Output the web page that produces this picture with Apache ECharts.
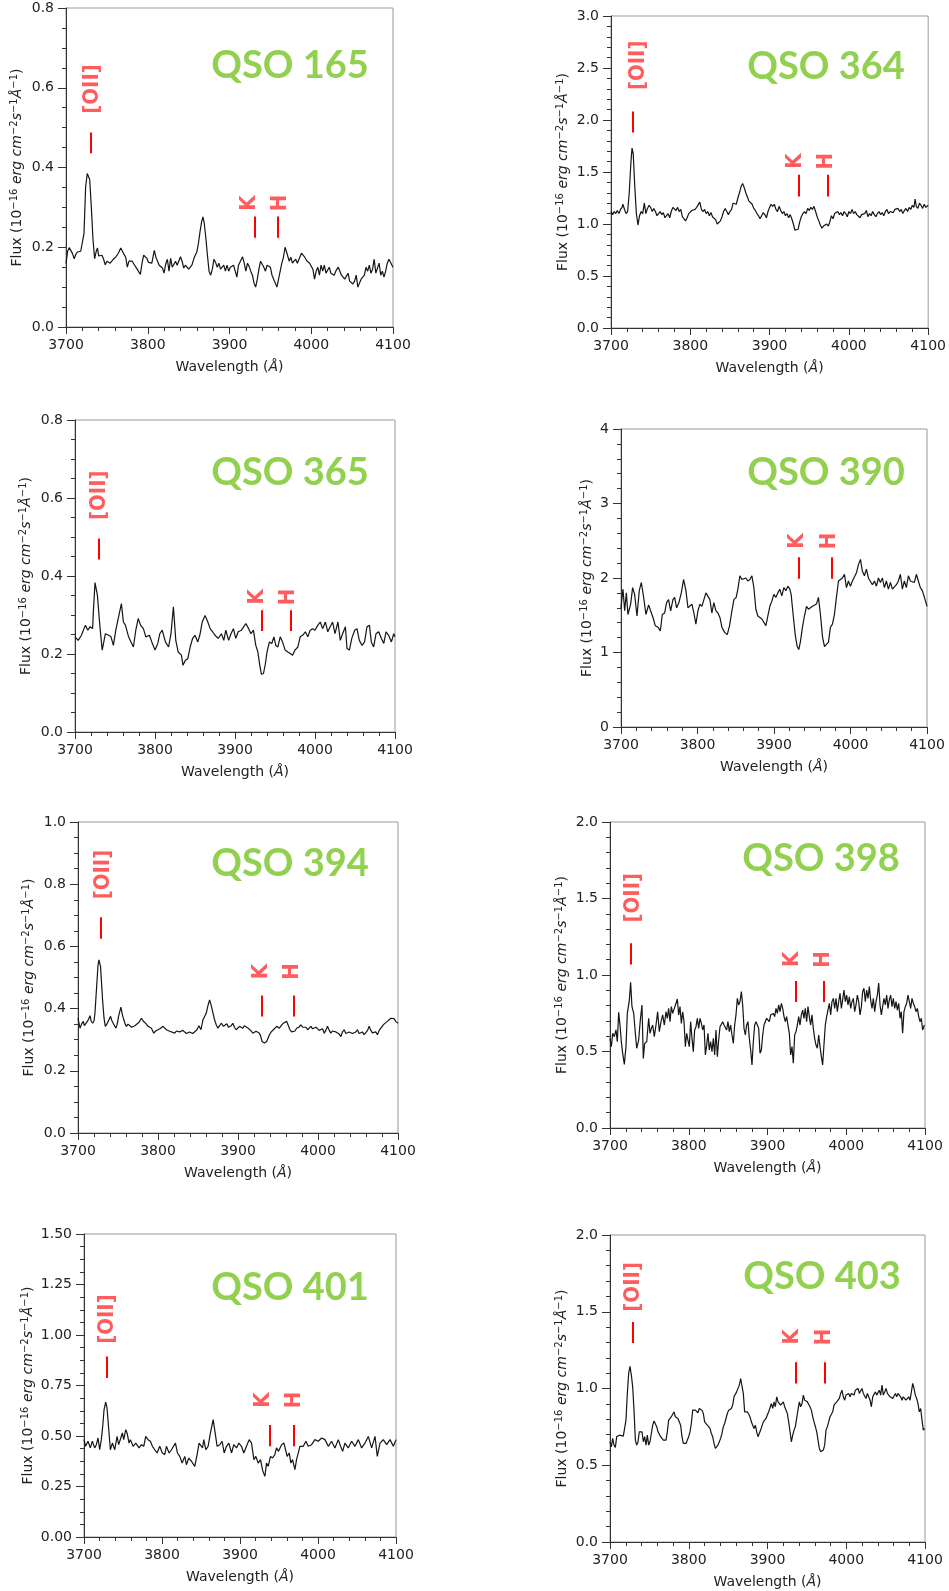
<!DOCTYPE html>
<html><head><meta charset="utf-8">
<script src="https://cdn.jsdelivr.net/npm/echarts@6/dist/echarts.min.js"></script>
<style>html,body{margin:0;padding:0;background:#fff}#c{width:949px;height:1591px}</style>
</head><body><div id="c"></div>
<script>
// ---------- DATA: spectra as [wavelength (Å), flux] ----------
const spec165 = [[3700,0.159],[3702,0.19],[3704,0.199],[3706,0.196],[3708,0.184],[3710,0.171],[3712,0.182],[3714,0.188],[3716,0.186],[3718,0.19],[3720,0.186],[3722,0.234],[3724,0.351],[3726,0.385],[3727.5,0.388],[3729,0.37],[3731,0.3],[3733,0.22],[3735,0.171],[3737,0.19],[3738.5,0.198],[3740,0.178],[3742,0.182],[3744,0.18],[3746,0.17],[3748,0.156],[3750,0.165],[3752,0.168],[3754,0.16],[3756,0.165],[3758,0.17],[3761,0.176],[3764,0.185],[3767,0.198],[3769,0.196],[3771,0.182],[3773,0.175],[3775,0.15],[3777,0.165],[3779,0.16],[3781,0.165],[3783,0.158],[3785,0.16],[3787,0.145],[3789,0.14],[3791,0.132],[3793,0.16],[3795,0.18],[3797,0.178],[3799,0.172],[3801,0.162],[3803,0.165],[3805,0.16],[3808,0.192],[3810,0.175],[3812,0.165],[3814,0.155],[3816,0.16],[3818,0.148],[3820,0.135],[3822,0.158],[3824,0.17],[3826,0.14],[3828,0.172],[3830,0.15],[3832,0.145],[3834,0.165],[3836,0.155],[3838,0.15],[3840,0.176],[3842,0.165],[3844,0.148],[3846,0.155],[3848,0.152],[3850,0.145],[3852,0.14],[3854,0.155],[3857,0.175],[3860,0.188],[3862,0.21],[3864,0.24],[3866,0.265],[3867.5,0.276],[3869,0.262],[3871,0.225],[3873,0.18],[3875,0.14],[3877,0.13],[3879,0.145],[3881,0.17],[3883,0.162],[3885,0.15],[3887,0.16],[3889,0.145],[3891,0.14],[3893,0.155],[3895,0.14],[3897,0.155],[3899,0.14],[3901,0.15],[3903,0.145],[3905,0.155],[3907,0.14],[3909,0.125],[3911,0.155],[3913,0.16],[3916,0.176],[3918,0.16],[3920,0.14],[3922,0.16],[3924,0.152],[3926,0.14],[3928,0.13],[3930,0.11],[3932,0.1],[3934,0.12],[3936,0.145],[3938,0.165],[3940,0.16],[3942,0.15],[3944,0.14],[3946,0.155],[3948,0.152],[3950,0.15],[3952,0.13],[3954,0.125],[3956,0.11],[3958,0.1],[3960,0.105],[3962,0.14],[3964,0.16],[3966,0.175],[3968,0.2],[3969.5,0.205],[3971,0.18],[3973,0.165],[3975,0.175],[3977,0.16],[3979,0.155],[3981,0.17],[3983,0.16],[3985,0.165],[3988,0.185],[3990,0.18],[3992,0.175],[3995,0.165],[3998,0.16],[4000,0.155],[4002,0.145],[4004,0.12],[4006,0.14],[4008,0.15],[4010,0.13],[4012,0.155],[4014,0.14],[4016,0.155],[4018,0.135],[4020,0.14],[4022,0.15],[4024,0.135],[4026,0.14],[4028,0.13],[4030,0.14],[4033,0.15],[4035,0.14],[4037,0.13],[4039,0.13],[4041,0.12],[4043,0.115],[4045,0.135],[4047,0.115],[4049,0.11],[4051,0.108],[4053,0.115],[4055,0.13],[4057,0.1],[4059,0.11],[4061,0.12],[4063,0.125],[4065,0.13],[4067,0.15],[4069,0.14],[4071,0.155],[4073,0.135],[4075,0.145],[4077,0.17],[4079,0.135],[4081,0.135],[4083,0.16],[4085,0.13],[4087,0.14],[4089,0.125],[4091,0.14],[4093,0.16],[4095,0.17],[4097,0.165],[4100,0.15]];

const spec364 = [[3700,1.12],[3702,1.09],[3704,1.12],[3706,1.10],[3708,1.13],[3710,1.10],[3712,1.14],[3714,1.16],[3715,1.19],[3717,1.14],[3719,1.10],[3721,1.12],[3723,1.30],[3725,1.58],[3726.5,1.73],[3728,1.68],[3730,1.36],[3732,1.10],[3734,0.99],[3736,1.08],[3738,1.12],[3740,1.10],[3742,1.20],[3744,1.10],[3746,1.15],[3748,1.18],[3750,1.16],[3752,1.12],[3754,1.15],[3756,1.12],[3758,1.08],[3760,1.07],[3762,1.12],[3764,1.09],[3766,1.11],[3768,1.06],[3770,1.08],[3772,1.10],[3774,1.06],[3776,1.12],[3778,1.16],[3780,1.15],[3782,1.13],[3784,1.16],[3786,1.12],[3788,1.14],[3790,1.07],[3792,1.06],[3794,1.03],[3796,1.06],[3798,1.10],[3800,1.10],[3802,1.13],[3804,1.12],[3806,1.14],[3808,1.16],[3810,1.15],[3812,1.21],[3814,1.14],[3816,1.12],[3818,1.14],[3820,1.10],[3822,1.12],[3824,1.08],[3826,1.11],[3828,1.07],[3830,1.06],[3832,1.04],[3834,1.00],[3836,0.99],[3838,1.03],[3840,1.07],[3842,1.12],[3844,1.15],[3846,1.12],[3848,1.09],[3850,1.12],[3852,1.14],[3854,1.20],[3856,1.21],[3858,1.19],[3860,1.25],[3862,1.30],[3864,1.36],[3866,1.39],[3868,1.35],[3870,1.30],[3872,1.26],[3874,1.22],[3876,1.23],[3878,1.19],[3880,1.15],[3882,1.13],[3884,1.10],[3886,1.08],[3888,1.05],[3890,1.08],[3892,1.11],[3894,1.09],[3896,1.06],[3898,1.12],[3900,1.16],[3902,1.19],[3904,1.17],[3906,1.19],[3908,1.14],[3910,1.12],[3912,1.17],[3914,1.13],[3916,1.10],[3918,1.12],[3920,1.08],[3922,1.10],[3924,1.06],[3926,1.09],[3928,1.05],[3930,1.00],[3932,0.94],[3934,0.93],[3936,0.95],[3938,1.02],[3940,1.07],[3942,1.10],[3944,1.12],[3946,1.10],[3948,1.15],[3950,1.13],[3952,1.16],[3954,1.14],[3956,1.17],[3958,1.12],[3960,1.07],[3962,1.03],[3964,0.99],[3966,0.96],[3968,0.98],[3970,0.97],[3972,1.00],[3974,0.98],[3976,1.02],[3978,1.08],[3980,1.05],[3982,1.10],[3984,1.09],[3986,1.12],[3988,1.09],[3990,1.11],[3992,1.08],[3994,1.12],[3996,1.10],[3998,1.07],[4000,1.12],[4002,1.10],[4004,1.14],[4006,1.10],[4008,1.12],[4010,1.09],[4012,1.08],[4014,1.06],[4016,1.09],[4018,1.08],[4020,1.10],[4022,1.13],[4024,1.07],[4026,1.10],[4028,1.08],[4030,1.12],[4032,1.09],[4034,1.07],[4036,1.10],[4038,1.12],[4040,1.09],[4042,1.11],[4044,1.08],[4046,1.12],[4048,1.14],[4050,1.10],[4052,1.12],[4054,1.13],[4056,1.11],[4058,1.14],[4060,1.13],[4062,1.15],[4064,1.12],[4066,1.14],[4068,1.10],[4070,1.13],[4072,1.15],[4074,1.12],[4076,1.16],[4078,1.14],[4080,1.18],[4082,1.16],[4083.5,1.24],[4085,1.17],[4087,1.15],[4089,1.20],[4091,1.18],[4093,1.15],[4095,1.19],[4097,1.16],[4100,1.18]];

const spec365 = [[3700,0.244],[3704,0.235],[3708,0.248],[3713,0.274],[3716,0.261],[3719,0.27],[3722,0.265],[3723,0.31],[3725,0.383],[3728,0.351],[3731,0.274],[3734,0.21],[3738,0.252],[3742,0.248],[3745,0.244],[3748,0.222],[3751,0.261],[3754,0.291],[3758,0.329],[3760.5,0.282],[3763,0.274],[3767,0.244],[3770,0.231],[3773,0.218],[3776,0.261],[3779,0.291],[3782,0.274],[3785.5,0.265],[3788.5,0.244],[3793,0.248],[3796,0.231],[3800,0.21],[3803.5,0.227],[3806,0.252],[3809,0.261],[3813,0.231],[3817,0.218],[3820,0.252],[3823,0.321],[3826,0.235],[3829,0.205],[3833,0.197],[3835,0.171],[3838,0.184],[3841,0.188],[3844,0.218],[3847,0.24],[3850,0.248],[3853.5,0.231],[3856,0.248],[3859,0.282],[3862.6,0.299],[3866,0.282],[3869,0.265],[3872,0.257],[3875,0.248],[3879,0.24],[3883,0.252],[3886,0.235],[3888.5,0.261],[3892,0.235],[3895,0.252],[3898,0.265],[3901,0.24],[3904,0.257],[3908,0.261],[3911,0.27],[3913.6,0.278],[3917,0.265],[3920,0.252],[3923,0.261],[3926,0.222],[3928.6,0.205],[3931,0.171],[3933,0.148],[3935.6,0.15],[3938,0.175],[3940,0.205],[3943,0.231],[3946,0.227],[3948.6,0.244],[3951,0.222],[3953.6,0.218],[3956.5,0.244],[3959.4,0.231],[3962.7,0.21],[3966,0.205],[3969,0.201],[3972,0.197],[3975,0.21],[3978.6,0.218],[3981.5,0.244],[3984.5,0.248],[3988,0.257],[3991,0.244],[3994,0.261],[3997,0.265],[4000,0.261],[4003.6,0.274],[4006.6,0.282],[4009.5,0.265],[4013,0.282],[4016,0.257],[4019,0.27],[4022,0.282],[4025,0.252],[4028.7,0.282],[4031.6,0.235],[4034.5,0.252],[4038,0.27],[4040,0.214],[4043,0.21],[4046,0.24],[4049.6,0.261],[4052.5,0.265],[4055.4,0.235],[4058.8,0.222],[4062,0.231],[4065,0.27],[4068,0.274],[4070.4,0.231],[4073.3,0.218],[4076.3,0.252],[4079.6,0.257],[4083,0.24],[4086,0.227],[4088.8,0.257],[4092,0.248],[4095.5,0.231],[4098.4,0.252],[4100,0.244]];

const spec390 = [[3700,1.60],[3702.6,1.85],[3704.8,1.56],[3707,1.80],[3709.1,1.51],[3712.6,1.65],[3715.2,1.87],[3717.8,1.78],[3720.9,1.49],[3723.9,1.83],[3726.6,1.94],[3729.6,1.74],[3732.6,1.51],[3736.1,1.64],[3738.7,1.56],[3741.8,1.47],[3744.8,1.36],[3748.3,1.34],[3751.4,1.29],[3754,1.51],[3757,1.53],[3759.6,1.67],[3762.2,1.71],[3764.9,1.56],[3767.9,1.71],[3770.1,1.74],[3772.7,1.60],[3775.7,1.67],[3778.8,1.80],[3781.8,1.98],[3784.9,1.83],[3787.5,1.60],[3790.1,1.62],[3792.7,1.65],[3795.3,1.53],[3797.9,1.38],[3800.6,1.56],[3803.2,1.65],[3805.8,1.62],[3808.4,1.71],[3811,1.80],[3813.6,1.82],[3816.2,1.71],[3818.8,1.53],[3821.4,1.67],[3824.1,1.56],[3826.7,1.53],[3829.3,1.47],[3831.9,1.34],[3835.4,1.27],[3838.9,1.24],[3841.9,1.36],[3845,1.56],[3847.6,1.71],[3850.6,1.74],[3852.8,1.85],[3855.4,2.03],[3858,1.98],[3860.6,1.96],[3863.2,2.00],[3865.8,1.96],[3868.5,1.98],[3871.1,2.03],[3873.7,1.87],[3876.3,1.58],[3878.9,1.49],[3881.5,1.47],[3884.1,1.45],[3886.7,1.47],[3889.4,1.36],[3892,1.49],[3894.6,1.62],[3897.2,1.69],[3899.8,1.78],[3902.4,1.74],[3905,1.80],[3907.6,1.85],[3910.2,1.76],[3912.9,1.87],[3915.5,1.83],[3918.1,1.89],[3920.7,1.85],[3922.4,1.78],[3925,1.51],[3927.7,1.24],[3930.3,1.08],[3932.4,1.04],[3934.6,1.15],[3937.2,1.34],[3939.8,1.49],[3942.5,1.62],[3945.1,1.58],[3947.7,1.60],[3950.3,1.62],[3952.9,1.61],[3955.5,1.65],[3958.1,1.74],[3960.7,1.51],[3963.4,1.21],[3966,1.08],[3968.6,1.08],[3971.2,1.14],[3973.8,1.34],[3976.4,1.38],[3979,1.51],[3981.6,1.74],[3984.3,1.96],[3986.9,1.94],[3989.5,2.00],[3992.1,2.05],[3994.7,1.87],[3997.3,1.96],[3999.9,1.89],[4002.5,1.96],[4005.1,1.94],[4007.8,2.07],[4010.4,2.18],[4013,2.25],[4015.6,2.09],[4018.2,2.03],[4020.8,2.12],[4023.4,2.00],[4026,1.98],[4028.6,1.91],[4031.3,1.96],[4033.9,1.89],[4036.5,2.00],[4039.1,1.94],[4041.7,2.00],[4044.3,1.87],[4046.9,1.96],[4049.5,1.85],[4052.2,1.94],[4054.8,1.85],[4057.4,1.85],[4060,1.91],[4062.6,1.96],[4065.2,2.05],[4067.8,1.85],[4070.4,1.96],[4073,1.87],[4075.7,2.03],[4078.3,1.96],[4080.9,1.98],[4083.5,1.94],[4086.1,2.05],[4088.7,1.96],[4091.3,1.87],[4093.9,1.83],[4096.6,1.74],[4099.2,1.65],[4100,1.62]];

const spec394 = [[3700,0.369],[3702.5,0.337],[3704.5,0.35],[3706.6,0.359],[3708,0.345],[3710,0.351],[3712.9,0.364],[3715,0.377],[3716.5,0.36],[3718.3,0.353],[3720,0.36],[3721.2,0.385],[3723.3,0.471],[3725,0.54],[3726.2,0.557],[3728.2,0.535],[3730.7,0.428],[3732.5,0.37],[3734.1,0.343],[3736,0.35],[3737.8,0.353],[3740.7,0.375],[3742.5,0.36],[3744,0.353],[3747.4,0.337],[3749,0.35],[3750.7,0.375],[3753.6,0.405],[3755.5,0.38],[3757.3,0.364],[3759,0.35],[3760.6,0.343],[3762.5,0.35],[3764.8,0.348],[3767,0.34],[3769,0.337],[3771,0.345],[3773.1,0.343],[3776,0.355],[3779.3,0.369],[3781.5,0.36],[3783.5,0.364],[3785.5,0.35],[3787.6,0.343],[3789.5,0.345],[3791.8,0.337],[3794.7,0.321],[3797,0.328],[3800,0.332],[3803,0.336],[3806.3,0.343],[3808.5,0.338],[3810.5,0.332],[3812.5,0.33],[3814.6,0.327],[3817,0.325],[3820.9,0.321],[3823,0.328],[3825,0.333],[3827,0.325],[3829.2,0.321],[3831,0.33],[3833.3,0.327],[3835.5,0.32],[3837.5,0.316],[3839.5,0.325],[3841.6,0.327],[3843.5,0.32],[3845.8,0.321],[3848.7,0.332],[3851.2,0.345],[3853.7,0.332],[3856.2,0.364],[3858,0.37],[3860.3,0.385],[3862.5,0.41],[3864.5,0.428],[3866,0.415],[3867.8,0.396],[3870.7,0.364],[3872.5,0.35],[3874.9,0.337],[3877,0.345],[3879,0.353],[3881.9,0.343],[3884,0.345],[3886.1,0.351],[3888,0.34],[3889.4,0.337],[3891.5,0.345],[3893.6,0.353],[3895.5,0.34],[3897.7,0.332],[3899.8,0.338],[3901.9,0.343],[3904,0.34],[3906,0.337],[3908,0.345],[3910.2,0.343],[3912.3,0.338],[3914.3,0.332],[3916.5,0.328],[3918.5,0.321],[3920.5,0.325],[3922.6,0.327],[3924.7,0.322],[3926.8,0.321],[3928.5,0.31],[3930.1,0.294],[3931.5,0.289],[3933,0.289],[3934.5,0.29],[3935.9,0.294],[3937.5,0.305],[3939.3,0.316],[3941.5,0.325],[3944.2,0.332],[3946.3,0.338],[3948.4,0.343],[3950,0.34],[3951.7,0.337],[3954,0.345],[3956.7,0.353],[3958.8,0.355],[3960.9,0.359],[3963,0.345],[3965,0.332],[3967,0.325],[3969.2,0.321],[3971.2,0.328],[3973.3,0.337],[3976,0.34],[3978.7,0.348],[3980.8,0.34],[3982.9,0.337],[3985,0.34],[3987,0.332],[3989,0.338],[3991.2,0.343],[3993.2,0.335],[3995.3,0.332],[3997.5,0.34],[3999.5,0.337],[4001.5,0.33],[4003.6,0.327],[4005.7,0.335],[4007.8,0.321],[4009.8,0.33],[4011.9,0.343],[4014,0.33],[4016.1,0.321],[4018,0.328],[4020.2,0.332],[4022.3,0.325],[4024.4,0.321],[4026.5,0.318],[4028.6,0.31],[4030.6,0.325],[4032.7,0.332],[4034.8,0.32],[4036.9,0.316],[4039,0.325],[4041,0.327],[4043,0.32],[4045.2,0.316],[4047.3,0.325],[4049.3,0.332],[4051.4,0.32],[4053.5,0.321],[4055.5,0.325],[4057.6,0.316],[4060,0.322],[4062,0.33],[4063.9,0.343],[4066,0.33],[4068,0.322],[4070.1,0.316],[4072.2,0.325],[4074.3,0.316],[4076.5,0.33],[4078.5,0.337],[4080.5,0.343],[4082.5,0.35],[4084.6,0.355],[4086.7,0.359],[4088.8,0.365],[4091,0.369],[4093,0.375],[4095,0.368],[4097.1,0.359],[4100,0.353]];

const spec398 = [[3700,0.586],[3701.7,0.532],[3703.4,0.619],[3705.5,0.597],[3707.6,0.641],[3709.3,0.564],[3711,0.756],[3712.7,0.673],[3714.4,0.564],[3716.1,0.488],[3718.2,0.416],[3720.3,0.532],[3722,0.749],[3724.6,0.837],[3726.2,0.952],[3727.9,0.793],[3730.1,0.749],[3732.2,0.619],[3733.9,0.521],[3736.4,0.575],[3738.5,0.706],[3740.6,0.804],[3742.3,0.455],[3744,0.553],[3746.6,0.564],[3749.1,0.717],[3750.8,0.619],[3752.5,0.651],[3754.2,0.673],[3756.3,0.597],[3758.4,0.673],[3760.5,0.76],[3762.6,0.63],[3764.8,0.695],[3766.9,0.739],[3769,0.673],[3771.1,0.76],[3772.8,0.717],[3774.5,0.782],[3776.2,0.695],[3777.9,0.793],[3779.6,0.749],[3781.7,0.782],[3783.8,0.815],[3785.5,0.843],[3787.2,0.739],[3788.9,0.793],[3790.6,0.684],[3792.3,0.76],[3794,0.695],[3795.7,0.532],[3797.4,0.619],[3799,0.575],[3800.7,0.532],[3802.4,0.695],[3804.1,0.586],[3805.8,0.499],[3807.5,0.641],[3809.2,0.662],[3810.9,0.717],[3812.6,0.651],[3814.3,0.717],[3816,0.684],[3817.7,0.641],[3819.4,0.673],[3821.1,0.477],[3822.8,0.542],[3824.4,0.619],[3826.1,0.51],[3827.8,0.564],[3829.5,0.499],[3831.2,0.586],[3832.9,0.477],[3834.6,0.641],[3836.3,0.466],[3838,0.575],[3839.7,0.662],[3841.4,0.651],[3843.1,0.695],[3844.8,0.673],[3846.5,0.684],[3848.1,0.641],[3849.8,0.695],[3851.5,0.63],[3853.2,0.673],[3854.9,0.608],[3856.6,0.553],[3858.3,0.673],[3860,0.739],[3861.7,0.847],[3863.4,0.804],[3865.1,0.826],[3866.8,0.891],[3868.5,0.804],[3870.2,0.651],[3871.9,0.608],[3873.5,0.673],[3875.2,0.695],[3876.9,0.586],[3878.6,0.51],[3880.3,0.412],[3882,0.564],[3883.7,0.673],[3885.4,0.695],[3887.1,0.684],[3888.8,0.651],[3890.5,0.488],[3892.2,0.51],[3893.9,0.608],[3895.6,0.673],[3897.2,0.684],[3898.9,0.717],[3900.6,0.706],[3902.3,0.695],[3904,0.739],[3905.7,0.728],[3907.4,0.749],[3909.1,0.728],[3910.8,0.782],[3912.5,0.749],[3914.2,0.804],[3915.9,0.76],[3917.6,0.815],[3919.3,0.782],[3921,0.728],[3922.6,0.695],[3924.3,0.728],[3926,0.673],[3927.7,0.619],[3929.4,0.477],[3931.1,0.532],[3932.8,0.423],[3934.5,0.608],[3936.2,0.63],[3937.9,0.673],[3939.6,0.728],[3941.3,0.673],[3943,0.739],[3944.7,0.771],[3946.3,0.717],[3948,0.782],[3949.7,0.695],[3951.4,0.793],[3953.1,0.728],[3954.8,0.673],[3956.5,0.739],[3958.2,0.651],[3959.9,0.586],[3961.6,0.542],[3963.3,0.521],[3965,0.608],[3966.7,0.532],[3968.4,0.466],[3970,0.412],[3971.7,0.42],[3973.4,0.673],[3975.1,0.728],[3976.8,0.739],[3978.5,0.815],[3980.2,0.739],[3981.9,0.826],[3983.6,0.847],[3985.3,0.782],[3987,0.847],[3988.7,0.76],[3990.4,0.826],[3992.1,0.88],[3993.8,0.782],[3995.4,0.837],[3997.1,0.902],[3998.8,0.826],[4000.5,0.869],[4002.2,0.804],[4003.9,0.858],[4005.6,0.782],[4007.3,0.826],[4009,0.847],[4010.7,0.76],[4012.4,0.804],[4014.1,0.869],[4015.8,0.826],[4017.5,0.739],[4019.2,0.793],[4020.8,0.891],[4022.5,0.913],[4024.2,0.826],[4025.9,0.902],[4027.6,0.847],[4029.3,0.924],[4031,0.837],[4032.7,0.782],[4034.4,0.847],[4036.1,0.76],[4037.8,0.826],[4039.5,0.869],[4041.2,0.948],[4042.9,0.804],[4044.6,0.739],[4046.2,0.793],[4047.9,0.847],[4049.6,0.804],[4051.3,0.869],[4053,0.782],[4054.7,0.837],[4056.4,0.869],[4058.1,0.793],[4059.8,0.847],[4061.5,0.782],[4063.2,0.826],[4064.9,0.771],[4066.6,0.815],[4068.3,0.717],[4069.9,0.76],[4071.6,0.62],[4073.3,0.76],[4075,0.793],[4076.7,0.815],[4078.4,0.869],[4080.1,0.826],[4081.8,0.782],[4083.5,0.847],[4085.2,0.815],[4086.9,0.793],[4088.6,0.76],[4090.3,0.782],[4092,0.728],[4093.7,0.695],[4095.3,0.717],[4097,0.641],[4099.2,0.673]];

const spec401 = [[3700,0.482],[3702.1,0.449],[3705.1,0.474],[3708.1,0.441],[3710.7,0.474],[3713.7,0.441],[3715.8,0.457],[3718,0.49],[3720.1,0.432],[3722.2,0.482],[3724,0.548],[3725.7,0.63],[3727.8,0.668],[3729.5,0.639],[3732.1,0.515],[3733.8,0.432],[3736.4,0.465],[3739.4,0.432],[3742.4,0.498],[3744.5,0.457],[3746.6,0.449],[3749.2,0.515],[3750.9,0.482],[3753.5,0.531],[3755.2,0.515],[3757.8,0.465],[3759.5,0.482],[3762.9,0.449],[3766.3,0.465],[3770.6,0.441],[3773.6,0.457],[3776.6,0.449],[3779.1,0.498],[3782.1,0.482],[3785.1,0.474],[3787.7,0.449],[3790.7,0.432],[3793.7,0.416],[3797.1,0.449],[3800.5,0.416],[3803.5,0.408],[3805.7,0.449],[3809.1,0.416],[3812.1,0.432],[3814.2,0.441],[3817.2,0.465],[3819.8,0.416],[3822.8,0.399],[3825.8,0.366],[3829.2,0.399],[3831.3,0.358],[3834.3,0.391],[3837.8,0.375],[3839.9,0.366],[3842,0.35],[3845,0.408],[3847.6,0.465],[3849.7,0.474],[3851.9,0.441],[3853.6,0.482],[3856.1,0.432],[3859.1,0.449],[3862.1,0.515],[3865.6,0.581],[3867.7,0.573],[3870.7,0.449],[3874.1,0.457],[3877.1,0.474],[3879.7,0.416],[3882.7,0.449],[3885.7,0.465],[3889.1,0.416],[3892.1,0.457],[3895.5,0.441],[3898.5,0.465],[3901.9,0.449],[3904.9,0.416],[3908.3,0.449],[3911.8,0.482],[3914.8,0.465],[3917.8,0.383],[3920.3,0.399],[3923.3,0.366],[3926.3,0.383],[3929,0.33],[3931.9,0.3],[3934,0.366],[3936.1,0.35],[3939.1,0.399],[3941.7,0.391],[3944.7,0.408],[3946.8,0.441],[3949.4,0.424],[3953.3,0.457],[3956.3,0.465],[3958.4,0.432],[3960.5,0.399],[3963.1,0.416],[3965.2,0.366],[3967.4,0.383],[3970.4,0.333],[3972.5,0.383],[3974.7,0.416],[3976.8,0.449],[3981.1,0.449],[3984.5,0.474],[3987.5,0.449],[3991.8,0.457],[3996,0.482],[4000.3,0.474],[4004.6,0.49],[4008.9,0.482],[4013.2,0.449],[4017.4,0.474],[4021.7,0.441],[4026,0.482],[4029,0.449],[4031.6,0.424],[4034.5,0.465],[4038.8,0.441],[4043.1,0.474],[4047.4,0.449],[4051.7,0.482],[4055.9,0.441],[4060.2,0.465],[4064.5,0.498],[4068.8,0.441],[4073.1,0.498],[4076,0.399],[4079.5,0.465],[4083.7,0.482],[4088,0.457],[4092.3,0.482],[4096.6,0.449],[4100,0.482]];

const spec403 = [[3700,0.653],[3701.7,0.62],[3703.4,0.675],[3705.1,0.631],[3706.8,0.616],[3708.5,0.686],[3710.2,0.675],[3711.9,0.696],[3714.4,0.69],[3716.9,0.69],[3718.6,0.703],[3720.3,0.794],[3722,0.968],[3723.7,1.098],[3725.4,1.145],[3727.1,1.087],[3728.8,1.011],[3730.5,0.859],[3732.2,0.664],[3733.9,0.631],[3735.6,0.653],[3737.2,0.718],[3738.9,0.729],[3740.6,0.718],[3742.3,0.653],[3744,0.686],[3745.7,0.631],[3747.4,0.696],[3749.1,0.631],[3750.8,0.653],[3752.5,0.707],[3754.2,0.761],[3755.9,0.788],[3757.6,0.783],[3759.3,0.751],[3761,0.718],[3762.6,0.718],[3764.3,0.686],[3766,0.696],[3767.7,0.664],[3769.4,0.653],[3771.1,0.664],[3772.8,0.718],[3774.5,0.794],[3776.2,0.783],[3777.9,0.816],[3779.6,0.827],[3781.3,0.848],[3783,0.816],[3784.7,0.827],[3786.3,0.805],[3788,0.805],[3789.7,0.761],[3791.4,0.686],[3793.1,0.642],[3794.8,0.631],[3796.5,0.642],[3798.2,0.664],[3799.9,0.686],[3801.6,0.718],[3803.3,0.772],[3805,0.859],[3806.7,0.87],[3808.4,0.859],[3810.1,0.863],[3811.7,0.842],[3813.4,0.87],[3815.1,0.881],[3816.8,0.859],[3818.5,0.837],[3820.2,0.783],[3821.9,0.783],[3823.6,0.761],[3825.3,0.772],[3827,0.74],[3828.7,0.707],[3830.4,0.686],[3832.1,0.642],[3833.8,0.61],[3835.4,0.599],[3837.1,0.631],[3838.8,0.653],[3840.5,0.675],[3842.2,0.707],[3843.9,0.751],[3845.6,0.772],[3847.3,0.783],[3849,0.837],[3850.7,0.859],[3852.4,0.848],[3854.1,0.87],[3855.8,0.892],[3857.5,0.946],[3859.2,0.935],[3860.8,0.978],[3862.5,0.968],[3864.2,1.022],[3865.9,1.065],[3867.6,1.054],[3869.3,0.968],[3871,0.848],[3872.7,0.837],[3874.4,0.848],[3876.1,0.837],[3877.8,0.816],[3879.5,0.783],[3881.2,0.761],[3882.9,0.74],[3884.6,0.761],[3886.3,0.718],[3887.9,0.686],[3889.6,0.696],[3891.3,0.729],[3893,0.74],[3894.7,0.783],[3896.4,0.794],[3898.1,0.805],[3899.8,0.827],[3901.5,0.848],[3903.2,0.859],[3904.9,0.902],[3906.6,0.87],[3908.3,0.913],[3910,0.881],[3911.7,0.946],[3913.4,0.913],[3915,0.924],[3916.7,0.892],[3918.4,0.892],[3920.1,0.913],[3921.8,0.881],[3923.5,0.881],[3925.2,0.837],[3926.9,0.783],[3928.6,0.718],[3930.3,0.653],[3932,0.696],[3933.7,0.729],[3935.4,0.751],[3937,0.805],[3938.7,0.859],[3940.4,0.913],[3942.1,0.881],[3943.8,0.902],[3945.5,0.957],[3947.2,0.924],[3948.9,0.913],[3950.6,0.913],[3952.3,0.902],[3954,0.881],[3955.7,0.859],[3957.4,0.816],[3959.1,0.783],[3960.8,0.751],[3962.5,0.718],[3964.2,0.664],[3965.8,0.61],[3967.5,0.588],[3969.2,0.588],[3970.9,0.599],[3972.6,0.631],[3974.3,0.729],[3976,0.751],[3977.7,0.783],[3979.4,0.816],[3981.1,0.827],[3982.8,0.848],[3984.5,0.892],[3986.2,0.881],[3987.9,0.913],[3989.6,0.924],[3991.2,0.935],[3992.9,0.968],[3994.6,0.989],[3996.3,0.946],[3998,0.924],[3999.7,0.957],[4001.4,0.946],[4003.1,0.968],[4004.8,0.946],[4006.5,0.968],[4008.2,0.978],[4009.9,0.957],[4011.6,0.989],[4013.3,0.978],[4015,1.0],[4016.6,0.968],[4018.3,0.978],[4020,1.0],[4021.7,0.968],[4023.4,0.978],[4025.1,0.935],[4026.8,0.968],[4028.5,0.946],[4030.2,0.924],[4031.9,0.881],[4033.6,0.946],[4035.3,0.935],[4037,0.978],[4038.7,0.957],[4040.3,0.968],[4042,0.989],[4043.7,0.957],[4045.4,1.022],[4047.1,0.957],[4048.8,0.978],[4050.5,1.0],[4052.2,0.968],[4053.9,0.978],[4055.6,0.946],[4057.3,0.957],[4059,0.935],[4060.7,0.946],[4062.4,0.968],[4064.1,0.946],[4065.7,0.968],[4067.4,0.978],[4069.1,0.946],[4070.8,0.924],[4072.5,0.946],[4074.2,0.935],[4075.9,0.924],[4077.6,0.935],[4079.3,0.946],[4081,0.924],[4082.7,0.978],[4084.4,1.033],[4086.1,1.0],[4087.7,0.957],[4089.4,0.935],[4091.1,0.902],[4092.8,0.848],[4094.5,0.87],[4096.2,0.794],[4097.9,0.729],[4099.6,0.74]];

// Line identifications: [label, wavelength of tick, tick bottom flux, tick top flux, label wavelength, label flux]
const marks165 = [['[OII]',3729.8,0.436,0.488,3732,0.597],['K',3931.2,0.224,0.277,3924,0.311],['H',3958.9,0.224,0.277,3962.6,0.311]];
const marks364 = [['[OII]',3728,1.88,2.081,3734,2.526],['K',3936.4,1.265,1.473,3932,1.604],['H',3973.6,1.265,1.473,3972,1.604]];
const marks365 = [['[OII]',3729.6,0.442,0.496,3730,0.607],['K',3933.6,0.259,0.312,3928,0.3465],['H',3969.9,0.259,0.312,3967,0.3465]];
const marks390 = [['K',3932,1.991,2.277,3930.7,2.497],['H',3975.5,1.991,2.277,3972,2.497]];
const marks394 = [['[OII]',3728.2,0.625,0.694,3731.6,0.831],['K',3929.3,0.375,0.442,3929.7,0.519],['H',3969.2,0.375,0.442,3968.3,0.519]];
const marks398 = [['[OII]',3726.7,1.068,1.207,3730,1.505],['K',3936.2,0.824,0.961,3931.5,1.102],['H',3971.3,0.824,0.961,3971.3,1.102]];
const marks401 = [['[OII]',3729.1,0.787,0.894,3729.5,1.079],['K',3938.3,0.449,0.554,3930,0.678],['H',3969.5,0.449,0.554,3970,0.678]];
const marks403 = [['[OII]',3729.2,1.297,1.434,3730,1.662],['K',3936.2,1.033,1.171,3931.5,1.336],['H',3973,1.033,1.171,3971.6,1.336]];

const names = ['QSO 165','QSO 364','QSO 365','QSO 390','QSO 394','QSO 398','QSO 401','QSO 403'];
const spectra = [spec165, spec364, spec365, spec390, spec394, spec398, spec401, spec403];
const marks = [marks165, marks364, marks365, marks390, marks394, marks398, marks401, marks403];
const yMax = [0.8, 3.0, 0.8, 4, 1.0, 2.0, 1.5, 2.0];
const yStep = [0.2, 0.5, 0.2, 1, 0.2, 0.5, 0.25, 0.5];
const yMinorSplit = [4, 5, 4, 5, 4, 5, 4, 5];
const yDecimals = [1, 1, 1, 0, 1, 1, 2, 1];
const xMin = 3700, xMax = 4100, xStep = 100;

// ---------- LAYOUT ----------
const boxes = [[66,8,393,327],[611,16,929,328],[75,420,395,732],[621,429,927,727],[78,822,398,1133],[610,822,925,1128],[84,1234,396,1537],[610,1235,925,1542]];
const yNameGap = [40,39,40,25,40,39,47,39];
const titlePos = [[290,66],[826,67],[290,473],[826,473],[290,864],[821,859],[290,1288],[822,1277]];

const FONT = 'DejaVu Sans';
const axisCol = '#333';
const chart = echarts.init(document.getElementById('c'), null, {renderer:'canvas'});

const supStyle = {fontFamily:FONT, fontSize:10, color:'#222', padding:[0,0,7,0]};
const grids = [], xAxes = [], yAxes = [], series = [], graphics = [];
boxes.forEach((b, i) => {
  grids.push({left:b[0], top:b[1], width:b[2]-b[0], height:b[3]-b[1], show:true, borderColor:'#999', borderWidth:1, backgroundColor:'transparent'});
  xAxes.push({
    type:'value', gridIndex:i, min:xMin, max:xMax, interval:xStep,
    axisLine:{show:true, onZero:false, lineStyle:{color:axisCol, width:1}},
    axisTick:{show:true, length:7, lineStyle:{color:axisCol}},
    minorTick:{show:true, splitNumber:5, length:4, lineStyle:{color:axisCol}},
    splitLine:{show:false}, minorSplitLine:{show:false},
    axisLabel:{fontFamily:FONT, fontSize:14, color:'#222', margin:11, showMinLabel:true, showMaxLabel:true, formatter:v=>String(v)},
    name:'Wavelength ({i|Å})', nameLocation:'middle', nameGap:33,
    nameTextStyle:{fontFamily:FONT, fontSize:14, color:'#222', rich:{i:{fontFamily:FONT, fontSize:14, fontStyle:'italic', color:'#222'}}}
  });
  yAxes.push({
    type:'value', gridIndex:i, min:0, max:yMax[i], interval:yStep[i],
    axisLine:{show:true, onZero:false, lineStyle:{color:axisCol, width:1}},
    axisTick:{show:true, length:8, lineStyle:{color:axisCol}},
    minorTick:{show:true, splitNumber:yMinorSplit[i], length:4, lineStyle:{color:axisCol}},
    splitLine:{show:false}, minorSplitLine:{show:false},
    axisLabel:{fontFamily:FONT, fontSize:14, color:'#222', margin:12, formatter:v=>v.toFixed(yDecimals[i])},
    name:'{r|Flux (10}{s|−16}{i| erg cm}{s|−2}{i|s}{s|−1}{i|Å}{s|−1}{r|)}', nameLocation:'middle', nameGap:yNameGap[i],
    nameTextStyle:{fontFamily:FONT, fontSize:14, color:'#222', rich:{
      r:{fontFamily:FONT, fontSize:14, color:'#222'},
      i:{fontFamily:FONT, fontSize:14, fontStyle:'italic', color:'#222'},
      s:supStyle}}
  });
  series.push({
    type:'line', xAxisIndex:i, yAxisIndex:i, data:spectra[i], symbol:'none', showSymbol:false,
    lineStyle:{color:'#151515', width:1.2}, animation:false, silent:true, z:3,
    markLine:{silent:true, animation:false, symbol:['none','none'],
      lineStyle:{color:'#ff0000', width:2, type:'solid'}, label:{show:false},
      data: marks[i].map(m => [{coord:[m[1], m[2]]}, {coord:[m[1], m[3]]}])}
  });
  series.push({
    type:'scatter', xAxisIndex:i, yAxisIndex:i, symbolSize:0, animation:false, silent:true, z:4,
    data: marks[i].map(m => [m[4], m[5], m[0]]),
    label:{show:true, position:'inside', rotate:90, formatter:p=>p.data[2],
      color:'#ff3535', fontSize:22, fontWeight:'bold', fontFamily:'DejaVu Sans Condensed, DejaVu Sans'}
  });
  graphics.push({type:'text', x:titlePos[i][0], y:titlePos[i][1], z:10,
    style:{text:names[i], fill:'#92d050', font:'bold 38px Lato, "Open Sans", sans-serif', textAlign:'center', textVerticalAlign:'middle'}});
});

chart.setOption({animation:false, backgroundColor:'#fff', grid:grids, xAxis:xAxes, yAxis:yAxes, series:series, graphic:graphics});
</script></body></html>
